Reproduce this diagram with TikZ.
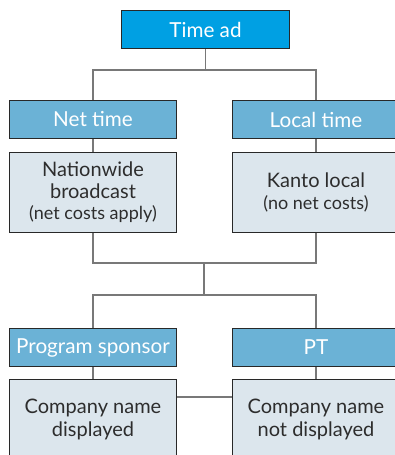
\documentclass[tikz,border=0pt]{standalone}
\usepackage{fontspec}
\setsansfont{Lato}
\usepackage{tikz}
\usepackage{xcolor}
\definecolor{topblue}{RGB}{0,160,227}
\definecolor{midblue}{RGB}{107,178,214}
\definecolor{paleblue}{RGB}{220,230,237}
\definecolor{linegray}{RGB}{120,120,120}
\tikzset{every picture/.style={line width=0.75pt}}
\tikzset{
  headbox/.style={draw={rgb,255:red,40;green,40;blue,40}, fill=midblue, text=white,
    anchor=north west, inner sep=0pt, minimum width=125.25pt, minimum height=28.5pt,
    font=\sffamily\fontsize{15.5}{17}\selectfont},
  infobox/.style={draw={rgb,255:red,40;green,40;blue,40}, fill=paleblue, text={rgb,255:red,45;green,45;blue,45},
    anchor=north west, inner sep=0pt, minimum width=125.25pt, minimum height=60pt,
    align=center, font=\sffamily\fontsize{15}{17}\selectfont},
  conn/.style={draw=linegray, line width=0.9pt}
}

\begin{document}
\begin{tikzpicture}[x=0.75pt,y=0.75pt,yscale=-1,xscale=1]
\clip (0,0) rectangle (395,455);
\useasboundingbox (0,0) rectangle (395,455);

% Text Node
\node [headbox, fill=topblue, minimum width=126pt] (timead) at (121,10) {Time ad};
% Text Node
\node [headbox] (nettime) at (9,100) {Net time};
% Text Node
\node [headbox] (localtime) at (232,100) {Local time};
% Text Node
\node [infobox] (nationwide) at (9,152) {Nationwide\\[-1pt]broadcast\\[-1pt]{\fontsize{13.5}{15}\selectfont (net costs apply)}};
% Text Node
\node [infobox] (kanto) at (232,152) {Kanto local\\[-1pt]{\fontsize{13.5}{15}\selectfont (no net costs)}};
% Text Node
\node [headbox] (sponsor) at (9,328) {Program sponsor};
% Text Node
\node [headbox] (pt) at (232,328) {PT};
% Text Node
\node [infobox] (shown) at (9,379) {Company name\\displayed};
% Text Node
\node [infobox] (hidden) at (232,379) {Company name\\not displayed};

\coordinate (top) at (205,70);
\coordinate (merge) at (204,263);
\coordinate (split) at (204,295);
\coordinate (link) at (204,397);

%Straight Lines
\draw [conn] (timead.south) -- (timead.south |- top);
\draw [conn] (nettime.north) |- (top) -| (localtime.north);
\draw [conn] (nettime.south) -- (nationwide.north);
\draw [conn] (localtime.south) -- (kanto.north);
\draw [conn] (nationwide.south) |- (merge) -| (kanto.south);
\draw [conn] (merge) -- (split);
\draw [conn] (sponsor.north) |- (split) -| (pt.north);
\draw [conn] (sponsor.south) -- (shown.north);
\draw [conn] (pt.south) -- (hidden.north);
\draw [conn] (shown.east |- link) -- (hidden.west |- link);
\end{tikzpicture}
\end{document}
